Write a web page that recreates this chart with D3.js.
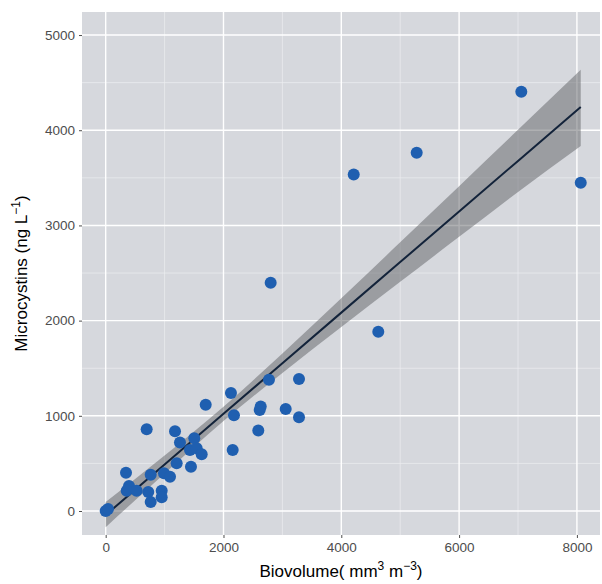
<!DOCTYPE html>
<meta charset="utf-8">
<title>Microcystins vs Biovolume</title>
<style>
body { margin: 0; background: #fff; font-family: 'Liberation Sans', Arial, sans-serif; }
svg { display: block; }
.tick text { font-size: 13.5px; fill: #4d4d4d; }
.tick line { stroke: #4d4d4d; }
.domain { display: none; }
</style>
<svg width="602" height="584"></svg>
<script src="https://d3js.org/d3.v7.min.js"></script>
<script>
// biovolume (mm3 m-3) and microcystins (ng L-1)
var biovolume = [0, 40, 345, 396, 357, 526, 696, 764, 723, 764, 951, 951, 990, 1092, 1177, 1205, 1261,
  1448, 1431, 1504, 1545, 1630, 1698, 2127, 2178, 2156, 2591, 2615, 2632, 2772, 3056, 3282, 3282,
  2801, 4628, 4211, 5280, 7056, 8065];
var microcystins = [0, 20, 403, 263, 214, 214, 860, 382, 200, 95, 214, 144, 397, 361, 839, 502, 719,
  466, 642, 765, 660, 597, 1116, 1239, 1007, 642, 845, 1060, 1098, 1379, 1071, 1386, 986,
  2398, 1883, 3534, 3764, 4405, 3449];

// linear fit and its grey confidence band
var fitX  = [0, 1000, 2000, 3000, 4000, 5000, 6000, 7000, 8065];
var fitY  = [-42, 489, 1021, 1552, 2084, 2615, 3146, 3678, 4244];
var fitLo = [-170, 395, 946, 1450, 1933, 2408, 2880, 3352, 3835];
var fitHi = [95, 583, 1096, 1654, 2235, 2822, 3412, 4004, 4635];

var xTicks = [0, 2000, 4000, 6000, 8000];
var yTicks = [0, 1000, 2000, 3000, 4000, 5000];
var xMinor = [1000, 3000, 5000, 7000];
var yMinor = [500, 1500, 2500, 3500, 4500];

var svg = d3.select("svg"),
    margin = {top: 12, right: 2, bottom: 49, left: 82},
    width = +svg.attr("width") - margin.left - margin.right,
    height = +svg.attr("height") - margin.top - margin.bottom;

var x = d3.scaleLinear().domain([-402, 8392]).range([0, width]);
var y = d3.scaleLinear().domain([-252, 5242]).range([height, 0]);

var g = svg.append("g").attr("transform", "translate(" + margin.left + "," + margin.top + ")");

g.append("rect").attr("width", width).attr("height", height).attr("fill", "#d6d8dd");

// grid
g.selectAll(".gxm").data(xMinor).enter().append("line")
    .attr("x1", x).attr("x2", x).attr("y1", 0).attr("y2", height)
    .attr("stroke", "#eceef0").attr("stroke-width", 0.7);
g.selectAll(".gym").data(yMinor).enter().append("line")
    .attr("y1", y).attr("y2", y).attr("x1", 0).attr("x2", width)
    .attr("stroke", "#eceef0").attr("stroke-width", 0.7);
g.selectAll(".gx").data(xTicks).enter().append("line")
    .attr("x1", x).attr("x2", x).attr("y1", 0).attr("y2", height)
    .attr("stroke", "#fff").attr("stroke-width", 1.4);
g.selectAll(".gy").data(yTicks).enter().append("line")
    .attr("y1", y).attr("y2", y).attr("x1", 0).attr("x2", width)
    .attr("stroke", "#fff").attr("stroke-width", 1.4);

var fit = fitX.map(function(v, i) { return {x: v, y: fitY[i], lo: fitLo[i], hi: fitHi[i]}; });

g.append("path").datum(fit)
    .attr("d", d3.area().curve(d3.curveMonotoneX)
      .x(function(d) { return x(d.x); })
      .y0(function(d) { return y(d.lo); })
      .y1(function(d) { return y(d.hi); }))
    .attr("fill", "#5f6166").attr("fill-opacity", 0.5);

g.append("path").datum(fit)
    .attr("d", d3.line().x(function(d) { return x(d.x); }).y(function(d) { return y(d.y); }))
    .attr("fill", "none").attr("stroke", "#13233a").attr("stroke-width", 2);

g.selectAll(".pt").data(biovolume).enter().append("circle")
    .attr("cx", function(d) { return x(d); })
    .attr("cy", function(d, i) { return y(microcystins[i]); })
    .attr("r", 6)
    .attr("fill", "#1f5fb0");

// axes
g.append("g").attr("transform", "translate(0," + height + ")")
    .call(d3.axisBottom(x).tickValues(xTicks).tickSize(3).tickPadding(4).tickFormat(d3.format("d")));
g.append("g")
    .call(d3.axisLeft(y).tickValues(yTicks).tickSize(3).tickPadding(4).tickFormat(d3.format("d")));

// axis titles
var xt = svg.append("text")
    .attr("x", margin.left + width / 2).attr("y", 577)
    .attr("text-anchor", "middle").attr("font-size", 17).attr("fill", "#000");
xt.append("tspan").text("Biovolume( mm");
xt.append("tspan").attr("baseline-shift", "super").attr("font-size", 12).text("3");
xt.append("tspan").text(" m");
xt.append("tspan").attr("baseline-shift", "super").attr("font-size", 12).text("\u22123");
xt.append("tspan").text(")");

var yt = svg.append("text")
    .attr("transform", "translate(27," + (margin.top + height / 2) + ") rotate(-90)")
    .attr("text-anchor", "middle").attr("font-size", 17).attr("fill", "#000");
yt.append("tspan").text("Microcystins (ng L");
yt.append("tspan").attr("baseline-shift", "super").attr("font-size", 12).text("\u22121");
yt.append("tspan").text(")");
</script>
